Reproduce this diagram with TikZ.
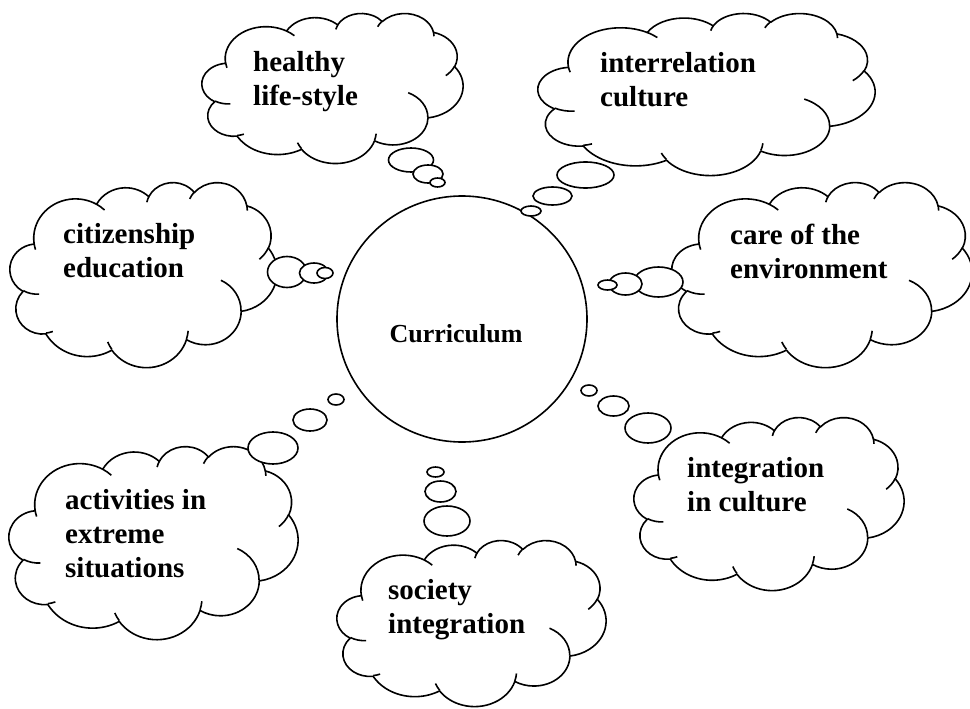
\documentclass[tikz,border=0pt]{standalone}
\usepackage{fontspec}
\setmainfont{Liberation Serif}
% ---- Office-style cloud geometry (43.2 x 43.2 box, y down) ----
\newcommand\defcarc[5]{%
  \pgfmathsetmacro\cTA{atan2((#2)*sin(#4),(#3)*cos(#4))}%
  \pgfmathsetmacro\cTB{atan2((#2)*sin((#4)+(#5)),(#3)*cos((#4)+(#5)))}%
  \pgfmathsetmacro\cTB{(\cTB<\cTA) ? (\cTB+360) : \cTB}%
  \expandafter\xdef\csname carc#1\endcsname{arc[start angle=\cTA, end angle=\cTB, x radius=#2, y radius=#3]}%
}
\defcarc{A}{6.753}{9.190}{-190.4875}{123.7805}
\defcarc{B}{5.333}{7.267}{-144.1024}{89.9452}
\defcarc{C}{4.365}{5.945}{-145.8079}{99.7230}
\defcarc{D}{4.857}{6.595}{-130.9861}{117.2417}
\defcarc{E}{5.333}{7.273}{-78.7089}{109.0269}
\defcarc{F}{6.775}{9.220}{-46.2673}{130.2690}
\defcarc{G}{5.785}{7.867}{0.6250}{114.0333}
\defcarc{H}{6.752}{9.215}{22.4516}{115.1726}
\defcarc{I}{7.720}{10.543}{66.2426}{75.7110}
\defcarc{J}{4.360}{5.918}{-274.9421}{146.7356}
\defcarc{K}{4.345}{5.945}{-246.8285}{152.5189}
\defcarc{a}{4.345}{5.945}{86.7420}{26.4295}
\defcarc{b}{4.360}{5.918}{73.6105}{11.4475}
\defcarc{c}{6.752}{9.215}{137.6242}{14.0811}
\defcarc{d}{6.752}{9.215}{6.4533}{15.9984}
\defcarc{e}{5.785}{7.867}{-70.2924}{70.9174}
\defcarc{f}{5.333}{7.273}{30.3180}{27.7515}
\defcarc{g}{4.857}{6.595}{-13.7443}{14.8589}
\defcarc{h}{4.857}{6.595}{-149.1815}{18.1954}
\defcarc{i}{4.365}{5.945}{-163.4943}{17.6864}
\defcarc{j}{6.753}{9.190}{-66.7070}{12.3194}
\defcarc{k}{6.753}{9.190}{157.6544}{11.8582}
\def\cloudmain{(3.9,14.37) \carcA \carcB \carcC \carcD \carcE \carcF \carcG \carcH \carcI \carcJ \carcK -- cycle}
\def\cloudcrease{(4.693,26.177) \carca (6.928,34.899) \carcb (16.478,39.09) \carcc (28.827,34.751) \carcd (34.129,22.954) \carce (41.798,15.354) \carcf (38.324,5.426) \carcg (29.078,3.952) \carch (22.141,4.72) \carci (14,5.192) \carcj (4.127,15.789) \carck}
\newcommand\cloudat[4]{%
  \begin{scope}[shift={(#1,#2)}, xscale=#3/43.2, yscale=#4/43.2]
    \draw[cloudline, fill=white] \cloudmain;
    \draw[cloudline] \cloudcrease;
  \end{scope}}
\tikzset{
  cloudline/.style={line width=1.6pt, line join=round},
  bub/.style={line width=1.6pt, fill=white},
  lbl/.style={anchor=base west, inner sep=0pt, font=\fontsize{29}{34}\selectfont\bfseries},
}
\begin{document}
\begin{tikzpicture}[x=1pt, y=-1pt]
\useasboundingbox (0,0) rectangle (970,709);
\clip (0,0) rectangle (970,709);
\fill[white] (0,0) rectangle (970,709);
% central circle
\draw[cloudline] (462,319) ellipse [x radius=125, y radius=123];
\node[anchor=base, inner sep=0pt, font=\fontsize{26}{30}\selectfont\bfseries] (curr) at (456,342) {Curriculum};
% clouds
\cloudat{202}{13}{261}{150}
\cloudat{538}{13}{337}{162}
\cloudat{10}{182}{267}{185}
\cloudat{672}{182}{300}{185}
\cloudat{9}{446}{289}{193}
\cloudat{337}{540}{269}{166}
\cloudat{634}{417}{270}{173}
% bubbles: healthy
\draw[bub] (411,160) ellipse [x radius=22.5, y radius=12];
\draw[bub] (428,174) ellipse [x radius=15, y radius=9];
\draw[bub] (437.5,182.5) ellipse [x radius=7.5, y radius=4.5];
% interrelation
\draw[bub] (585.5,175) ellipse [x radius=28.5, y radius=13];
\draw[bub] (552.5,196) ellipse [x radius=19.5, y radius=9];
\draw[bub] (531,211) ellipse [x radius=10, y radius=5];
% citizenship
\draw[bub] (287,272) ellipse [x radius=19.5, y radius=15.5];
\draw[bub] (314,273) ellipse [x radius=14.5, y radius=10];
\draw[bub] (325,273) ellipse [x radius=8, y radius=5.5];
% care
\draw[bub] (658.5,282) ellipse [x radius=24.5, y radius=15];
\draw[bub] (625.5,284) ellipse [x radius=16.5, y radius=11];
\draw[bub] (607.5,285) ellipse [x radius=9.5, y radius=5];
% activities
\draw[bub] (273,448) ellipse [x radius=25, y radius=16];
\draw[bub] (310,420) ellipse [x radius=17, y radius=11];
\draw[bub] (336,399.5) ellipse [x radius=8, y radius=5.5];
% society
\draw[bub] (447,521) ellipse [x radius=23, y radius=15];
\draw[bub] (440.5,491.5) ellipse [x radius=15.5, y radius=10.5];
\draw[bub] (435.5,472) ellipse [x radius=8.5, y radius=5];
% integration
\draw[bub] (648,428) ellipse [x radius=23, y radius=15];
\draw[bub] (613.5,406) ellipse [x radius=15.5, y radius=10];
\draw[bub] (589,390.5) ellipse [x radius=8, y radius=5.5];
% labels
\node[lbl] (healthy) at (253,72) {\begin{tabular}[t]{@{}l@{}}healthy\\life-style\end{tabular}};
\node[lbl] (interrel) at (600,73) {\begin{tabular}[t]{@{}l@{}}interrelation\\culture\end{tabular}};
\node[lbl] (citizen) at (63,243) {\begin{tabular}[t]{@{}l@{}}citizenship\\education\end{tabular}};
\node[lbl] (care) at (730,244) {\begin{tabular}[t]{@{}l@{}}care of the\\environment\end{tabular}};
\node[lbl] (activ) at (65,509) {\begin{tabular}[t]{@{}l@{}}activities in\\extreme\\situations\end{tabular}};
\node[lbl] (society) at (388,599) {\begin{tabular}[t]{@{}l@{}}society\\integration\end{tabular}};
\node[lbl] (integr) at (687,477) {\begin{tabular}[t]{@{}l@{}}integration\\in culture\end{tabular}};
\end{tikzpicture}
\end{document}
